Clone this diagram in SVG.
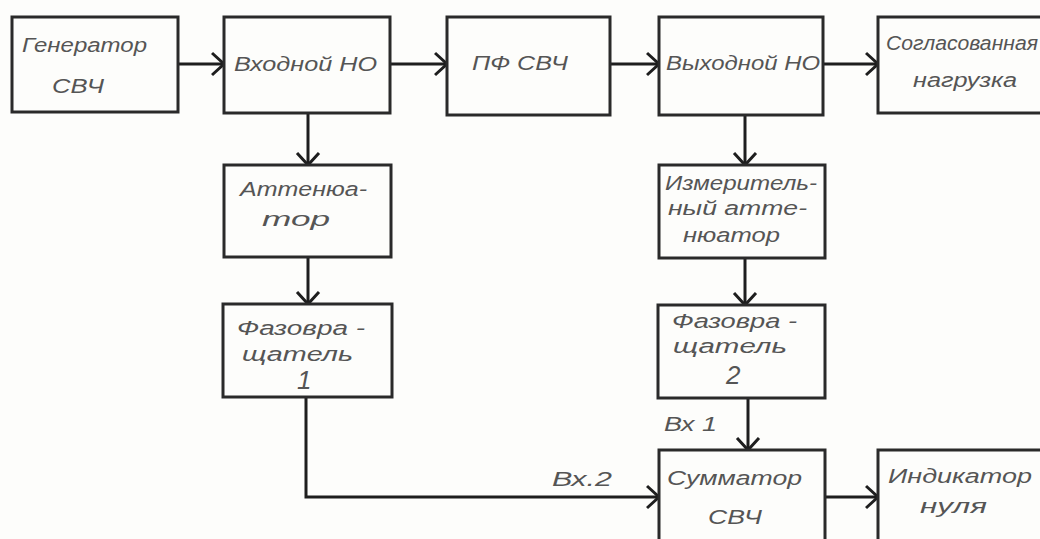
<svg xmlns="http://www.w3.org/2000/svg" width="1040" height="539" viewBox="0 0 1040 539">
<defs>
<style>
.box{fill:#fdfdfb;stroke:#2a2a2a;stroke-width:3}
.t{font-family:"Liberation Sans",Arial,sans-serif;font-style:italic;font-size:20px;fill:#555555}
.d{font-size:26px}
.ln{fill:none;stroke:#1e1e1e;stroke-width:3}
</style>
<marker id="ah" markerWidth="16" markerHeight="26" refX="13" refY="13" orient="auto" markerUnits="userSpaceOnUse">
<path d="M1,2 L13,13 L1,24" fill="none" stroke="#1e1e1e" stroke-width="3"/>
</marker>
</defs>
<rect width="1040" height="539" fill="#fdfdfb"/>
<g id="connectors">
<line class="ln" x1="178" y1="64" x2="224" y2="64" marker-end="url(#ah)"/>
<line class="ln" x1="390" y1="64" x2="447" y2="64" marker-end="url(#ah)"/>
<line class="ln" x1="610" y1="64" x2="659" y2="64" marker-end="url(#ah)"/>
<line class="ln" x1="823" y1="64" x2="878" y2="64" marker-end="url(#ah)"/>
<line class="ln" x1="308" y1="113" x2="308" y2="165" marker-end="url(#ah)"/>
<line class="ln" x1="308" y1="257" x2="308" y2="304" marker-end="url(#ah)"/>
<line class="ln" x1="745" y1="115" x2="745" y2="165" marker-end="url(#ah)"/>
<line class="ln" x1="745" y1="258" x2="745" y2="305" marker-end="url(#ah)"/>
<line class="ln" x1="748" y1="398" x2="748" y2="450" marker-end="url(#ah)"/>
<polyline class="ln" points="306,397 306,497 659,497" marker-end="url(#ah)"/>
<line class="ln" x1="825" y1="497" x2="878" y2="497" marker-end="url(#ah)"/>
<text class="t" x="664" y="431" textLength="53" lengthAdjust="spacingAndGlyphs">Вх 1</text>
<text class="t" x="552" y="486" textLength="60" lengthAdjust="spacingAndGlyphs">Вх.2</text>
</g>
<g id="gen">
<rect class="box" x="12" y="17" width="166" height="95"/>
<text class="t" x="22" y="52" textLength="125" lengthAdjust="spacingAndGlyphs">Генератор</text>
<text class="t" x="52" y="93" textLength="52" lengthAdjust="spacingAndGlyphs">СВЧ</text>
</g>
<g id="vhod">
<rect class="box" x="224" y="17" width="166" height="96"/>
<text class="t" x="234" y="71" textLength="143" lengthAdjust="spacingAndGlyphs">Входной НО</text>
</g>
<g id="pf">
<rect class="box" x="447" y="17" width="163" height="98"/>
<text class="t" x="472" y="70" textLength="96" lengthAdjust="spacingAndGlyphs">ПФ СВЧ</text>
</g>
<g id="vyhod">
<rect class="box" x="659" y="17" width="164" height="98"/>
<text class="t" x="666" y="70" textLength="154" lengthAdjust="spacingAndGlyphs">Выходной НО</text>
</g>
<g id="nagr">
<rect class="box" x="878" y="17" width="164" height="96"/>
<text class="t" x="886" y="50" textLength="152" lengthAdjust="spacingAndGlyphs">Согласованная</text>
<text class="t" x="913" y="87" textLength="104" lengthAdjust="spacingAndGlyphs">нагрузка</text>
</g>
<g id="att">
<rect class="box" x="224" y="165" width="167" height="92"/>
<text class="t" x="240" y="196" textLength="127" lengthAdjust="spacingAndGlyphs">Аттенюа-</text>
<text class="t" x="262" y="226" textLength="68" lengthAdjust="spacingAndGlyphs">тор</text>
</g>
<g id="faz1">
<rect class="box" x="223" y="304" width="169" height="93"/>
<text class="t" x="237" y="335" textLength="128" lengthAdjust="spacingAndGlyphs">Фазовра -</text>
<text class="t" x="242" y="361" textLength="111" lengthAdjust="spacingAndGlyphs">щатель</text>
<text class="t d" x="297" y="389">1</text>
</g>
<g id="izm">
<rect class="box" x="659" y="165" width="166" height="93"/>
<text class="t" x="665" y="190" textLength="152" lengthAdjust="spacingAndGlyphs">Измеритель-</text>
<text class="t" x="668" y="215" textLength="139" lengthAdjust="spacingAndGlyphs">ный атте-</text>
<text class="t" x="683" y="242" textLength="97" lengthAdjust="spacingAndGlyphs">нюатор</text>
</g>
<g id="faz2">
<rect class="box" x="658" y="305" width="167" height="93"/>
<text class="t" x="672" y="328" textLength="125" lengthAdjust="spacingAndGlyphs">Фазовра -</text>
<text class="t" x="673" y="353" textLength="114" lengthAdjust="spacingAndGlyphs">щатель</text>
<text class="t d" x="726" y="384">2</text>
</g>
<g id="summ">
<rect class="box" x="659" y="450" width="166" height="100"/>
<text class="t" x="667" y="485" textLength="135" lengthAdjust="spacingAndGlyphs">Сумматор</text>
<text class="t" x="708" y="524" textLength="54" lengthAdjust="spacingAndGlyphs">СВЧ</text>
</g>
<g id="ind">
<rect class="box" x="878" y="450" width="170" height="100"/>
<text class="t" x="888" y="483" textLength="144" lengthAdjust="spacingAndGlyphs">Индикатор</text>
<text class="t" x="920" y="513" textLength="67" lengthAdjust="spacingAndGlyphs">нуля</text>
</g>
</svg>
